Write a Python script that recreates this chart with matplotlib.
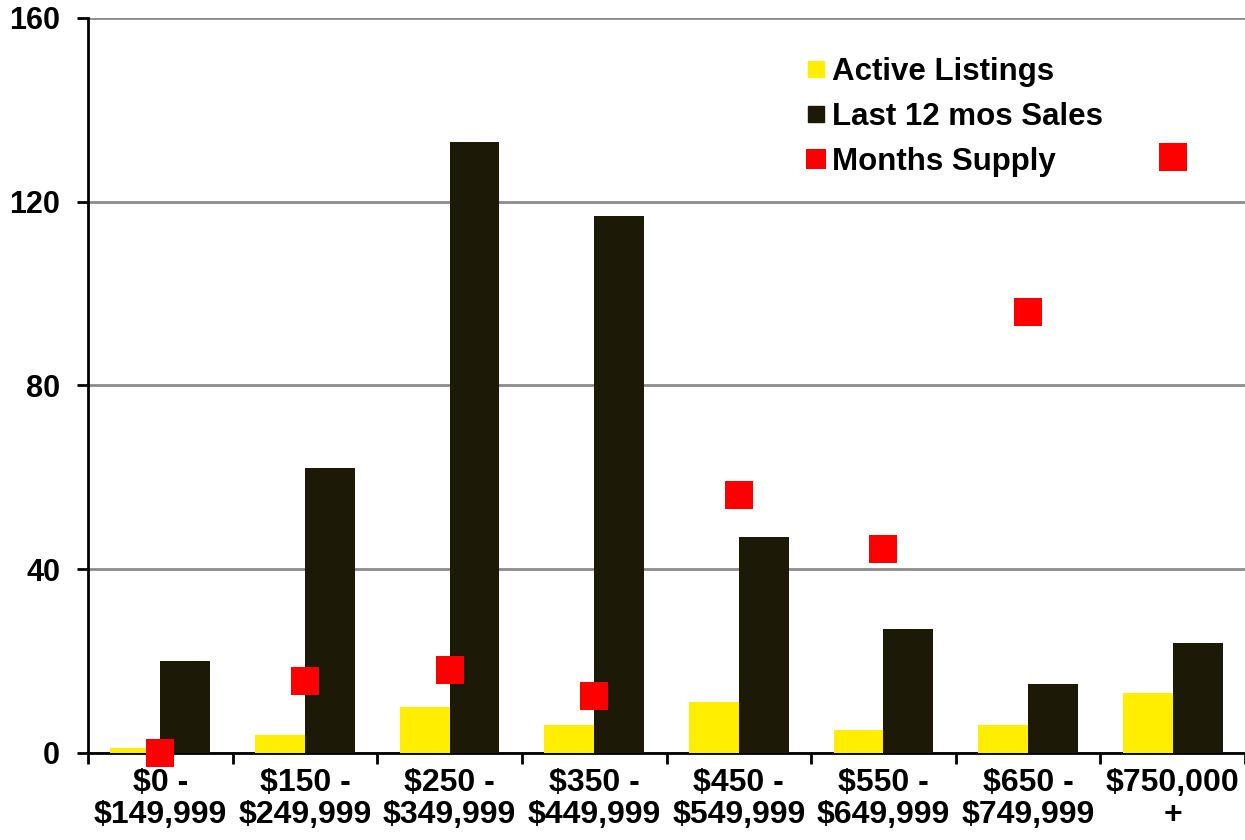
import matplotlib
matplotlib.use("Agg")
import matplotlib.pyplot as plt
from matplotlib.lines import Line2D
import numpy as np

categories = ["$0 -\n$149,999", "$150 -\n$249,999", "$250 -\n$349,999", "$350 -\n$449,999",
              "$450 -\n$549,999", "$550 -\n$649,999", "$650 -\n$749,999", "$750,000\n+"]
active_listings = [1, 4, 10, 6, 11, 5, 6, 13]
sales_12mo = [20, 62, 133, 117, 47, 27, 15, 24]
months_supply = [0.0, 0.78, 0.9, 0.62, 2.81, 2.22, 4.8, 6.49]
y_ticks = [0, 40, 80, 120, 160]

from matplotlib import font_manager
names = {f.name for f in font_manager.fontManager.ttflist}
fam = "Liberation Sans Narrow" if "Liberation Sans Narrow" in names else "Liberation Sans"
plt.rcParams['font.family'] = [fam, 'DejaVu Sans']

YELLOW = "#ffee00"
BLACK = "#1c1907"
RED = "#ff0000"

fig = plt.figure(figsize=(12.45, 8.4), dpi=100)
ax = fig.add_axes([0.0707, 0.1036, 0.9293, 0.875])
x = np.arange(len(categories))
w = 0.345
ax.bar(x - w / 2, active_listings, width=w, color=YELLOW, zorder=3)
ax.bar(x + w / 2, sales_12mo, width=w, color=BLACK, zorder=3)

ax2 = ax.twinx()
ax2.plot(x, months_supply, linestyle="none", marker="s", markersize=19.5,
         color=RED, markeredgewidth=0, clip_on=False, zorder=5)
ax2.set_ylim(0, 8)
ax2.axis("off")

ax.set_xlim(-0.5, len(categories) - 0.5)
ax.set_ylim(0, 160)
ax.set_yticks(y_ticks)
ax.set_yticklabels([str(v) for v in y_ticks], fontsize=22, fontweight="bold")
ax.yaxis.grid(True, color="#8c8c8c", linewidth=2, zorder=0)
ax.set_axisbelow(True)

ax.set_xticks(x)
ax.set_xticklabels(categories, fontsize=23, fontweight="bold", linespacing=1.08)
ax.tick_params(axis="x", length=0, pad=11)
ax.set_xticks(np.arange(len(categories) + 1) - 0.5, minor=True)
ax.tick_params(axis="x", which="minor", length=8, width=2, direction="out")
ax.tick_params(axis="y", length=8, width=2, direction="out", pad=12)

for s in ["top", "right"]:
    ax.spines[s].set_visible(False)
ax.spines["left"].set_linewidth(2)
ax.spines["bottom"].set_linewidth(2)

handles = [
    Line2D([], [], linestyle="none", marker="s", markersize=11, color=YELLOW),
    Line2D([], [], linestyle="none", marker="s", markersize=11, color=BLACK),
    Line2D([], [], linestyle="none", marker="s", markersize=15, color=RED, markeredgewidth=0),
]
leg = ax.legend(handles, ["Active Listings", "Last 12 mos Sales", "Months Supply"],
                loc="upper left", bbox_to_anchor=(0.593, 0.985), frameon=False,
                prop={"family": ["Liberation Sans", "DejaVu Sans"], "weight": "bold", "size": 22.5},
                handletextpad=0.05, handlelength=0.9, labelspacing=0.47)

fig.savefig("out.png", dpi=100)
